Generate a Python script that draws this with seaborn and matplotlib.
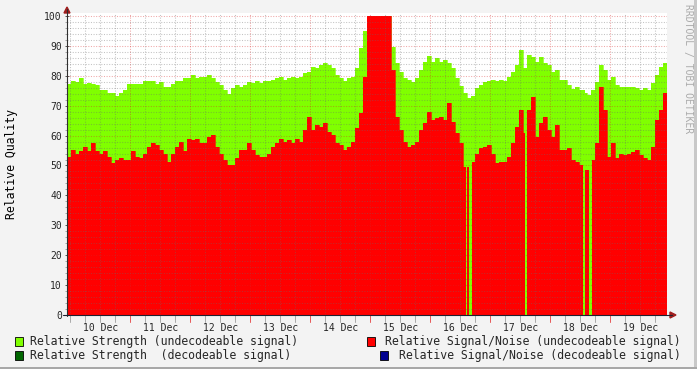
import numpy as np
import pandas as pd
import matplotlib
matplotlib.use("Agg")
import matplotlib.pyplot as plt
import seaborn as sns
from matplotlib.patches import Rectangle, Polygon
from matplotlib.lines import Line2D
import matplotlib.transforms as mtransforms

# ---------------- data (one sample every 1/15 day, 10 days) ----------------
day_labels = ["10 Dec", "11 Dec", "12 Dec", "13 Dec", "14 Dec",
              "15 Dec", "16 Dec", "17 Dec", "18 Dec", "19 Dec"]

strength_undecodeable = [
    77.3, 78.3, 78, 79.2, 77.3, 77.5, 77.3, 77, 75.3, 75.2, 74.4, 74.2, 73.3, 74.4, 75.2,
    77.3, 77.3, 77.3, 77.3, 78.3, 78.3, 78.3, 77.3, 78, 76.4, 76.4, 77.3, 78.3, 78.3, 79.2,
    79.2, 80.3, 79.2, 79.7, 79.7, 80.3, 79.2, 78, 77, 75.3, 74, 75.8, 77, 76.4, 77,
    78, 77.5, 78.4, 77.5, 78.4, 78.4, 78.6, 79.2, 79.7, 78.6, 79.2, 79.7, 79.2, 79.7, 80.8,
    81.4, 83, 82.5, 83.6, 84.2, 83.6, 82.5, 80.3, 79.2, 78.4, 79.2, 79.7, 82.5, 89.2, 95,
    100, 100, 100, 100, 100, 100, 89.7, 84.2, 81.4, 79.2, 78.6, 78, 79.2, 82, 84.7,
    86.6, 84.7, 85.8, 84.7, 85.3, 84.2, 82.5, 79.2, 76.6, 74.4, 72.5, 73.2, 75.8, 76.9, 78,
    78.3, 78.6, 78.4, 78.6, 78.4, 79.7, 81.4, 83.6, 88.6, 82.5, 87, 86.4, 84.7, 86.4, 84.2,
    83.6, 81.4, 81.9, 78.6, 78.6, 76.9, 75.5, 76.1, 75.3, 74.4, 73.6, 75.3, 78, 83.6, 81.9,
    78.6, 79.7, 76.9, 76.1, 76.1, 76.1, 76.1, 75.8, 75.3, 75.8, 75.3, 77.5, 80.3, 82.8, 84.2,
]

snr_undecodeable = [
    53, 55.2, 54, 55, 56.3, 55, 57.4, 55, 54, 55, 53, 50.7, 51.8, 52.4, 51.8,
    51.8, 55, 53, 52.4, 54, 56.3, 57.4, 56.9, 55.2, 54, 51.3, 54, 56.3, 58, 55,
    59, 58.5, 59, 57.4, 57.4, 59.6, 60.2, 56.3, 54, 51.8, 50.2, 50.2, 52.4, 55.2, 55.2,
    57.4, 55.2, 53.5, 53, 53, 54, 56.3, 57.4, 59, 58, 58.5, 57.4, 59, 58, 61.9,
    66.3, 61.9, 63.5, 63, 64.1, 61.3, 60.2, 57.4, 56.9, 55.2, 56.3, 58, 62.4, 67.4, 79.7,
    100, 100, 100, 100, 100, 100, 82, 66.3, 61.9, 58, 56.3, 56.9, 58, 61.9, 64.1,
    68, 65.2, 65.8, 66.3, 65.2, 70.8, 64.7, 60.8, 57.4, 49.6, 49.6, 51.3, 54, 55.7, 56.3,
    56.9, 54, 50.7, 51.3, 51.3, 53, 57.4, 63, 68.6, 60.8, 68.6, 73, 59.6, 64.1, 66.3,
    61.9, 59.6, 63.5, 55.2, 55.2, 55.7, 51.8, 51.3, 50.2, 48.5, 48.5, 51.8, 57.4, 76.4, 68.6,
    53, 57.4, 52.4, 54, 53.5, 54, 54.6, 55.2, 53.5, 52.4, 51.8, 56.3, 65.2, 68.6, 74.1,
]

# periods (in days from graph start) where the signal/noise value is missing
snr_dropouts = [(6.650, 6.672), (6.705, 6.750), (7.633, 7.667),
                (8.595, 8.633), (8.700, 8.750)]

legend_left = ["Relative Strength (undecodeable signal)",
               "Relative Strength  (decodeable signal)"]
legend_right = ["Relative Signal/Noise (undecodeable signal)",
                "Relative Signal/Noise (decodeable signal)"]

GREEN = "#80FF00"
RED = "#FF0000"
DKGREEN = "#006600"
NAVY = "#000090"
ARROW = "#A01E1E"

# ---------------- figure ----------------
sns.set_theme(style="white")
plt.rcParams['font.family'] = ['DejaVu Sans Mono']

W, H = 697, 369
fig = plt.figure(figsize=(W / 100, H / 100), dpi=100, facecolor="#F3F3F3")

def fx(x):
    return x / W

def fy(y):
    return 1 - y / H

ax = fig.add_axes([fx(67), fy(315), fx(667) - fx(67), fy(13) - fy(315)])
ax.set_facecolor("white")

n = len(strength_undecodeable)
step = 10.0 / n
edges = np.arange(n + 1) * step
g_ext = np.append(strength_undecodeable, strength_undecodeable[-1])
r_ext = np.append(snr_undecodeable, snr_undecodeable[-1])

ax.fill_between(edges, 0, g_ext, step="post", color=GREEN, lw=0, zorder=1)
ax.fill_between(edges, 0, r_ext, step="post", color=RED, lw=0, zorder=2)
for s, e in snr_dropouts:
    g = strength_undecodeable[int(s / step)]
    ax.fill_between([s, e], 0, [g, g], color=GREEN, lw=0, zorder=3)

df = pd.DataFrame({"t": edges, "strength": g_ext, "snr": r_ext})
sns.lineplot(data=df, x="t", y="strength", drawstyle="steps-post", color=GREEN,
             lw=0.5, ax=ax, zorder=1.5, legend=False)
sns.lineplot(data=df, x="t", y="snr", drawstyle="steps-post", color=RED,
             lw=0.5, ax=ax, zorder=2.5, legend=False)

ax.set_xlim(0, 10)
ax.set_ylim(0, 101)
ax.set_xlabel("")
ax.set_ylabel("")

# grid (drawn over the data, rrdtool style)
minor_c = (0.42, 0.42, 0.42, 0.4)
major_c = (0.85, 0.15, 0.15, 0.4)
for v in np.arange(2, 101, 2):
    if v % 10:
        ax.axhline(v, color=minor_c, lw=0.75, ls=(0, (1, 1.5)), zorder=5)
for v in range(10, 101, 10):
    ax.axhline(v, color=major_c, lw=0.75, ls=(0, (1, 1.5)), zorder=6)
minor_x = [0.05 + 0.25 * k for k in range(40)]
major_x = [1.05 + k for k in range(9)]
for v in minor_x:
    if all(abs(v - m) > 1e-6 for m in major_x):
        ax.axvline(v, color=minor_c, lw=0.75, ls=(0, (1, 1.5)), zorder=5)
for v in major_x:
    ax.axvline(v, color=major_c, lw=0.75, ls=(0, (1, 1.5)), zorder=6)

# ticks
for sp in ax.spines.values():
    sp.set_visible(False)
ax.set_yticks(range(0, 101, 10))
ax.set_yticklabels([str(v) for v in range(0, 101, 10)], fontsize=7)
ax.set_yticks(np.arange(0, 101, 2), minor=True)
ax.tick_params(axis="y", which="major", length=2.5, width=0.7, color="#555555",
               direction="inout", pad=2.5, left=True)
ax.tick_params(axis="y", which="minor", length=1.5, width=0.6, color="#999999",
               direction="out", left=True)
ax.set_xticks([0.56 + k for k in range(10)])
ax.set_xticklabels(day_labels, fontsize=7)
ax.tick_params(axis="x", which="major", length=0, pad=5.5, bottom=True)
trans = mtransforms.blended_transform_factory(ax.transData, ax.transAxes)
for v in minor_x:
    is_major = any(abs(v - m) < 1e-6 for m in major_x)
    ax.plot([v, v], [0, -7 / 302], transform=trans, clip_on=False,
            color=(0.9, 0.35, 0.35) if is_major else "#AAAAAA", lw=0.7, zorder=7)

# axes lines and arrows (figure pixel coords)
fig.add_artist(Line2D([fx(67), fx(67)], [fy(316), fy(9)], color="#303030", lw=0.8))
fig.add_artist(Line2D([fx(63), fx(672)], [fy(315), fy(315)], color="#202030", lw=0.8))
fig.add_artist(Polygon([(fx(64), fy(13)), (fx(70), fy(13)), (fx(67), fy(7))],
                       closed=True, color=ARROW, transform=fig.transFigure))
fig.add_artist(Polygon([(fx(670), fy(312)), (fx(670), fy(318)), (fx(676), fy(315))],
                       closed=True, color=ARROW, transform=fig.transFigure))

# y label
fig.text(fx(12), fy(164), "Relative Quality", rotation=90, fontsize=8.3,
         ha="center", va="center", color="black")

# watermark
fig.text(fx(688), fy(4), "RRDTOOL / TOBI OETIKER", rotation=270, fontsize=7,
         ha="center", va="top", color="#ABABAB")

# legend
def square(x, y, c):
    fig.add_artist(Rectangle((fx(x), fy(y + 9)), 8 / W, 9 / H, facecolor=c,
                             edgecolor="black", lw=0.6, transform=fig.transFigure))

square(15, 336.5, GREEN)
square(15, 350.5, DKGREEN)
square(367, 336.5, RED)
square(380, 350.5, NAVY)
fig.text(fx(30), fy(341), legend_left[0], fontsize=8.3, va="center", ha="left")
fig.text(fx(30), fy(355), legend_left[1], fontsize=8.3, va="center", ha="left")
fig.text(fx(681), fy(341), legend_right[0], fontsize=8.3, va="center", ha="right")
fig.text(fx(681), fy(355), legend_right[1], fontsize=8.3, va="center", ha="right")

# 3D frame
fig.add_artist(Rectangle((fx(694), 0), 3 / W, 1, facecolor="#C8C8C8", lw=0,
                         transform=fig.transFigure))
fig.add_artist(Rectangle((0, 0), 1, 2 / H, facecolor="#A8A8A8", lw=0,
                         transform=fig.transFigure))

fig.savefig("out.png", dpi=100, facecolor=fig.get_facecolor())
